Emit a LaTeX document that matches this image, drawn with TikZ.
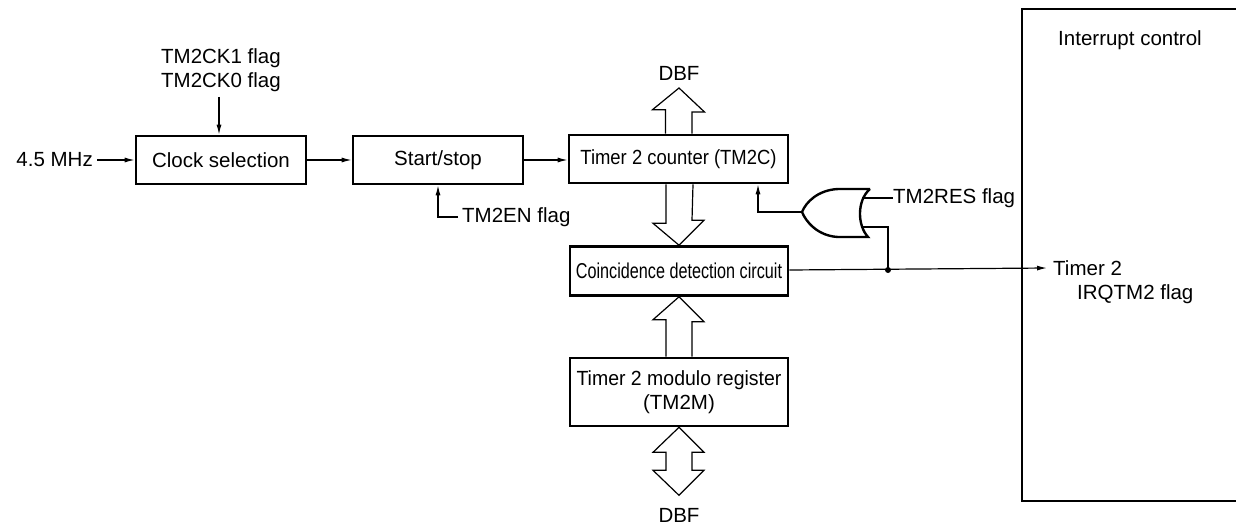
\documentclass[tikz,border=0pt]{standalone}
\usepackage{fontspec}
\setmainfont{Liberation Sans}
\usepackage{graphicx}
\usetikzlibrary{arrows.meta,calc}
\begin{document}
\begin{tikzpicture}[x=1pt,y=-1pt,
  every node/.style={font=\fontsize{20.5}{24}\selectfont, inner sep=0pt},
  blk/.style={draw, line width=2.6pt, minimum height=48pt, align=center},
  conn/.style={line width=1.2pt},
  arr/.style={conn, -{Latex[length=10pt,width=5pt]}},
  bus/.style={line width=1.2pt, fill=white},
  lbl/.style={align=left}
]
\useasboundingbox (0,0) rectangle (1236,527);

% blocks
\node[blk, minimum width=170pt] (clk) at (221,160) {Clock selection};
\node[blk, minimum width=170pt] (ss) at (438,160) {Start/stop};
\node[blk, minimum width=219pt] (cnt) at (678.5,159) {\scalebox{0.9}[1]{Timer 2 counter (TM2C)}};
\node[blk, minimum width=218pt, minimum height=49pt] (coin) at (679,271) {\scalebox{0.79}[1.05]{Coincidence detection circuit}};
\node[blk, minimum width=218pt, minimum height=68pt, align=center] (mod) at (679,392) {\scalebox{0.95}[1]{Timer 2 modulo register}\\(TM2M)};

% interrupt control box (right edge beyond picture)
\node[draw=none, minimum width=240pt, minimum height=492pt] (irq) at (1142,255) {};
\draw[line width=2.4pt] (1240,9) -- (1022,9) -- (1022,501) -- (1240,501);
\node (irqt) at (1130,40) {Interrupt control};

% labels
\node[align=center] (ck) at (221,70) {TM2CK1 flag\\TM2CK0 flag};
\node[anchor=east, inner xsep=4pt] (mhz) at (97,160) {4.5 MHz};
\node[anchor=west] (tm2en) at (462,217) {TM2EN flag};
\node[anchor=west] (tm2res) at (893,198) {TM2RES flag};
\node[anchor=west] (t2) at (1053,268) {Timer 2};
\node[anchor=west] (irqtm2) at (1077,294) {IRQTM2 flag};
\node (dbf1) at (679,73) {DBF};
\node (dbf2) at (679,515) {DBF};

% connectors
\draw[arr] (ck.south) ++(-2,5) coordinate (ckb) -- (ckb |- clk.north);
\draw[arr] (mhz.east) -- (clk.west);
\draw[arr] (clk.east) -- (ss.west);
\draw[arr] (ss.east) -- (cnt.west |- ss.east);
\draw[arr] ($(tm2en.west)+(-4,0)$) -| (ss.south);

% OR gate
\coordinate (orout) at (802,212);
\coordinate (orin1) at (862,198);
\coordinate (orin2) at (862,227);
\draw[line width=2.4pt] (870,189) -- (838,189) .. controls (818,190) and (806,202) .. (orout)
  .. controls (806,222) and (818,236) .. (838,237) -- (868,237)
  .. controls (857,225) and (857,200) .. (870,189);
\draw[conn] (orin1) -- (tm2res.west);
\coordinate (jn) at (888,270);
\draw[conn] (orin2) -| (jn);
\fill (jn) circle (3pt);
\draw[arr] (orout) -| ($(cnt.south)+(79.5,0)$);

% main output
\draw[arr] ($(coin.east)+(0,-1)$) -- ($(t2.west)+(-6,0)$ |- jn);

% bus arrows
\draw[bus] ($(cnt.north)+(-13,0)$) -- ++(0,-24) -- ++(-13,0) -- (dbf1.south |- 0,88) -- ++(25.5,24) -- ++(-12.5,0) -- ($(cnt.north)+(13.5,0)$);
\draw[bus] ($(cnt.south)+(-12.5,0)$) -- ++(0,39) -- ++(-13,0) -- ($(coin.north)$) -- ++(25,-25) -- ++(-12,0) -- ($(cnt.south)+(14.5,0)$);
\draw[bus] ($(mod.north)+(-13,0)$) -- ++(0,-37) -- ++(-13,0) -- (coin.south) -- ++(25,25) -- ++(-12,0) -- ($(mod.north)+(13,0)$);
\draw[bus] (mod.south) -- ++(25,25) -- ++(-12,0) -- ++(0,18) -- ++(12,0) -- ++(-25,25) -- ++(-26,-25) -- ++(13,0) -- ++(0,-18) -- ++(-13,0) -- cycle;
\end{tikzpicture}
\end{document}
